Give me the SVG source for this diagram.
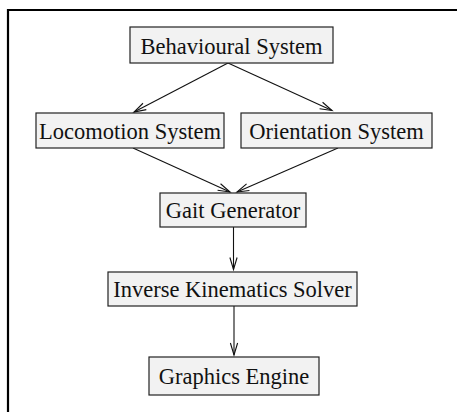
<svg xmlns="http://www.w3.org/2000/svg" width="457" height="412" viewBox="0 0 457 412">
<style>
.box{fill:#f2f2f2;stroke:#222;stroke-width:1.2}
.lbl{font-family:"Liberation Serif","Times New Roman",serif;font-size:22.5px;fill:#111;text-anchor:middle}
.edge{stroke:#111;stroke-width:1.1;fill:none;marker-end:url(#arr)}
</style>
<defs>
<marker id="arr" markerUnits="userSpaceOnUse" markerWidth="16" markerHeight="12" viewBox="-13 -6 14 12" refX="0" refY="0" orient="auto">
<path d="M-12,-3.6 L0,0 L-12,3.6" fill="none" stroke="#111" stroke-width="1.1"/>
</marker>
</defs>
<rect width="457" height="412" fill="#fff"/>
<path d="M8,412 V10 H457" fill="none" stroke="#000" stroke-width="2.2"/>
<g id="connectors">
<line class="edge" x1="228" y1="63" x2="134" y2="112"/>
<line class="edge" x1="228" y1="63" x2="332" y2="110.5"/>
<line class="edge" x1="133" y1="148" x2="230" y2="192"/>
<line class="edge" x1="338" y1="148" x2="237" y2="192"/>
<line class="edge" x1="233.5" y1="227" x2="233.5" y2="269.5"/>
<line class="edge" x1="234" y1="306" x2="234" y2="355"/>
</g>
<g id="behavioural"><rect class="box" x="130" y="27" width="203" height="36"/><text class="lbl" x="231.5" y="53.5">Behavioural System</text></g>
<g id="locomotion"><rect class="box" x="36" y="113" width="188" height="35"/><text class="lbl" x="130" y="138.5">Locomotion System</text></g>
<g id="orientation"><rect class="box" x="241" y="113" width="191" height="35"/><text class="lbl" x="336.5" y="138.5">Orientation System</text></g>
<g id="gait"><rect class="box" x="160" y="193" width="146" height="34"/><text class="lbl" x="233" y="218">Gait Generator</text></g>
<g id="ik"><rect class="box" x="108" y="272" width="249" height="34"/><text class="lbl" x="232.5" y="297">Inverse Kinematics Solver</text></g>
<g id="graphics"><rect class="box" x="149" y="357" width="170" height="38"/><text class="lbl" x="234" y="384">Graphics Engine</text></g>
</svg>
